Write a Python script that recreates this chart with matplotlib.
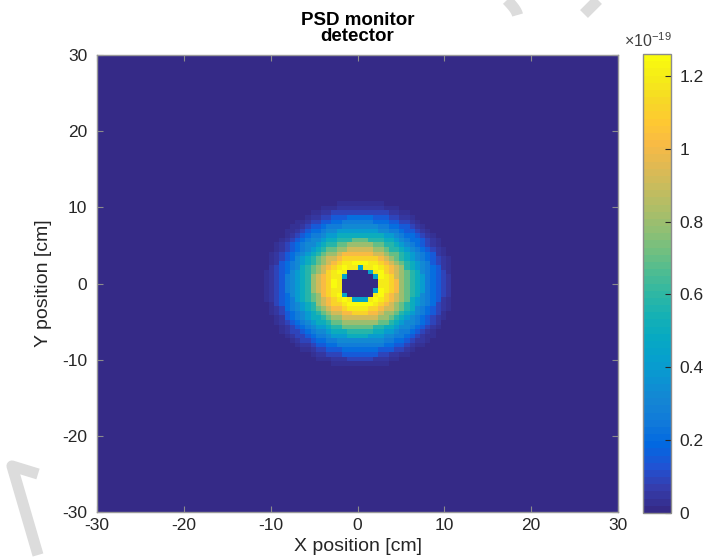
import numpy as np
import matplotlib
matplotlib.use('Agg')
import matplotlib.pyplot as plt
from matplotlib.colors import LinearSegmentedColormap
from matplotlib.ticker import FuncFormatter
from matplotlib.lines import Line2D

plt.rcParams['font.family'] = ['Liberation Sans', 'DejaVu Sans']
plt.rcParams['mathtext.fontset'] = 'custom'
plt.rcParams['mathtext.rm'] = 'Liberation Sans'
plt.rcParams['axes.unicode_minus'] = False

# detector grid (cm)
x_edges = np.linspace(-30, 30, 101)
y_edges = np.linspace(-30, 30, 101)
beam_center = (0.2, -0.1)

# radial profile, intensity in units of 1e-19
ring_edges = [0.0, 1.95, 2.25, 2.6, 3.0, 3.4, 3.9, 4.4, 4.9, 5.4, 5.9, 6.4,
              6.9, 7.4, 7.9, 8.4, 8.9, 9.4, 9.9, 10.4, 10.9, 11.3]
ring_values = [0.0, 0.45, 1.2, 1.25, 1.2, 1.12, 1.02, 0.91, 0.8, 0.69, 0.59,
               0.5, 0.41, 0.33, 0.26, 0.2, 0.14, 0.09, 0.055, 0.03, 0.01]

cbar_ticks = [0, 0.2, 0.4, 0.6, 0.8, 1.0, 1.2]
vmax = 1.26

# parula-like colormap (MATLAB default)
parula_stops = [
    (0.2081, 0.1663, 0.5292), (0.2081, 0.2386, 0.6771), (0.1253, 0.3242, 0.8303),
    (0.0060, 0.4086, 0.8828), (0.0629, 0.4737, 0.8554), (0.0793, 0.5200, 0.8312),
    (0.0488, 0.5772, 0.8228), (0.0239, 0.6287, 0.8038), (0.0267, 0.6642, 0.7607),
    (0.0843, 0.6928, 0.7062), (0.1801, 0.7177, 0.6424), (0.3022, 0.7376, 0.5712),
    (0.4420, 0.7481, 0.5033), (0.5709, 0.7485, 0.4494), (0.6834, 0.7435, 0.4044),
    (0.7858, 0.7356, 0.3633), (0.8824, 0.7274, 0.3217), (0.9739, 0.7314, 0.2666),
    (0.9955, 0.7861, 0.1967), (0.9697, 0.8481, 0.1475), (0.9598, 0.9218, 0.0948),
    (0.9763, 0.9831, 0.0538)]
parula = LinearSegmentedColormap.from_list('parula', parula_stops, N=64)

xc = 0.5 * (x_edges[:-1] + x_edges[1:])
yc = 0.5 * (y_edges[:-1] + y_edges[1:])
X, Y = np.meshgrid(xc, yc)
R = np.hypot(X - beam_center[0], Y - beam_center[1])
idx = np.digitize(R, ring_edges) - 1
vals = np.array(ring_values + [0.0])
Z = vals[np.clip(idx, 0, len(ring_values))]

fig = plt.figure(figsize=(7.04, 5.6), dpi=100)

# faint watermark strokes
wm = dict(color='#dcdcdc', lw=8, solid_capstyle='butt', zorder=0)
fig.add_artist(Line2D([38/704, 12/704, 38/704], [1-474/560, 1-466/560, 1-555/560], transform=fig.transFigure, **wm))
t = np.linspace(0, 1, 20)
fig.add_artist(Line2D((507 + 11*np.sin(t*1.3))/704, 1 - (t*15)/560, transform=fig.transFigure, **wm))
fig.add_artist(Line2D([598/704, 584/704], [1.0, 1-14/560], transform=fig.transFigure, **wm))

ax = fig.add_axes([97/704, 1-512/560, 521/704, 457/560])
mesh = ax.pcolormesh(x_edges, y_edges, Z, cmap=parula, vmin=0, vmax=vmax, shading='flat')
ax.set_xlim(-30, 30)
ax.set_ylim(-30, 30)
ax.set_xticks(np.arange(-30, 31, 10))
ax.set_yticks(np.arange(-30, 31, 10))
ax.tick_params(direction='in', length=4, width=0.8, color='#8c8c8c', labelsize=12.5,
               labelcolor='#262626', top=True, right=True)
ax.tick_params(axis='x', pad=4)
ax.tick_params(axis='y', pad=7)
for s in ax.spines.values():
    s.set_color('#9a9a9a')
    s.set_linewidth(1.0)
ax.set_xlabel('X position [cm]', fontsize=14, color='#262626', labelpad=4)
ax.set_ylabel('Y position [cm]', fontsize=14, color='#262626', labelpad=7)
ax.set_title('PSD monitor\ndetector', fontsize=13.5, fontweight='bold', linespacing=0.95, pad=10)

cax = fig.add_axes([643/704, 1-513/560, 28/704, 459/560])
cb = fig.colorbar(mesh, cax=cax, ticks=cbar_ticks)
cb.ax.yaxis.set_major_formatter(FuncFormatter(lambda v, p: '%g' % round(v, 1)))
cb.ax.tick_params(direction='in', length=4, width=0.8, color='#262626', labelsize=12.5,
                  labelcolor='#262626', pad=6)
cb.outline.set_edgecolor('#8c8c8c')
cb.outline.set_linewidth(1.0)
fig.text(624/704, 1-47/560, r'$\times10^{-19}$', fontsize=11.5, color='#404040', va='baseline')

fig.savefig('out.png', dpi=100)
